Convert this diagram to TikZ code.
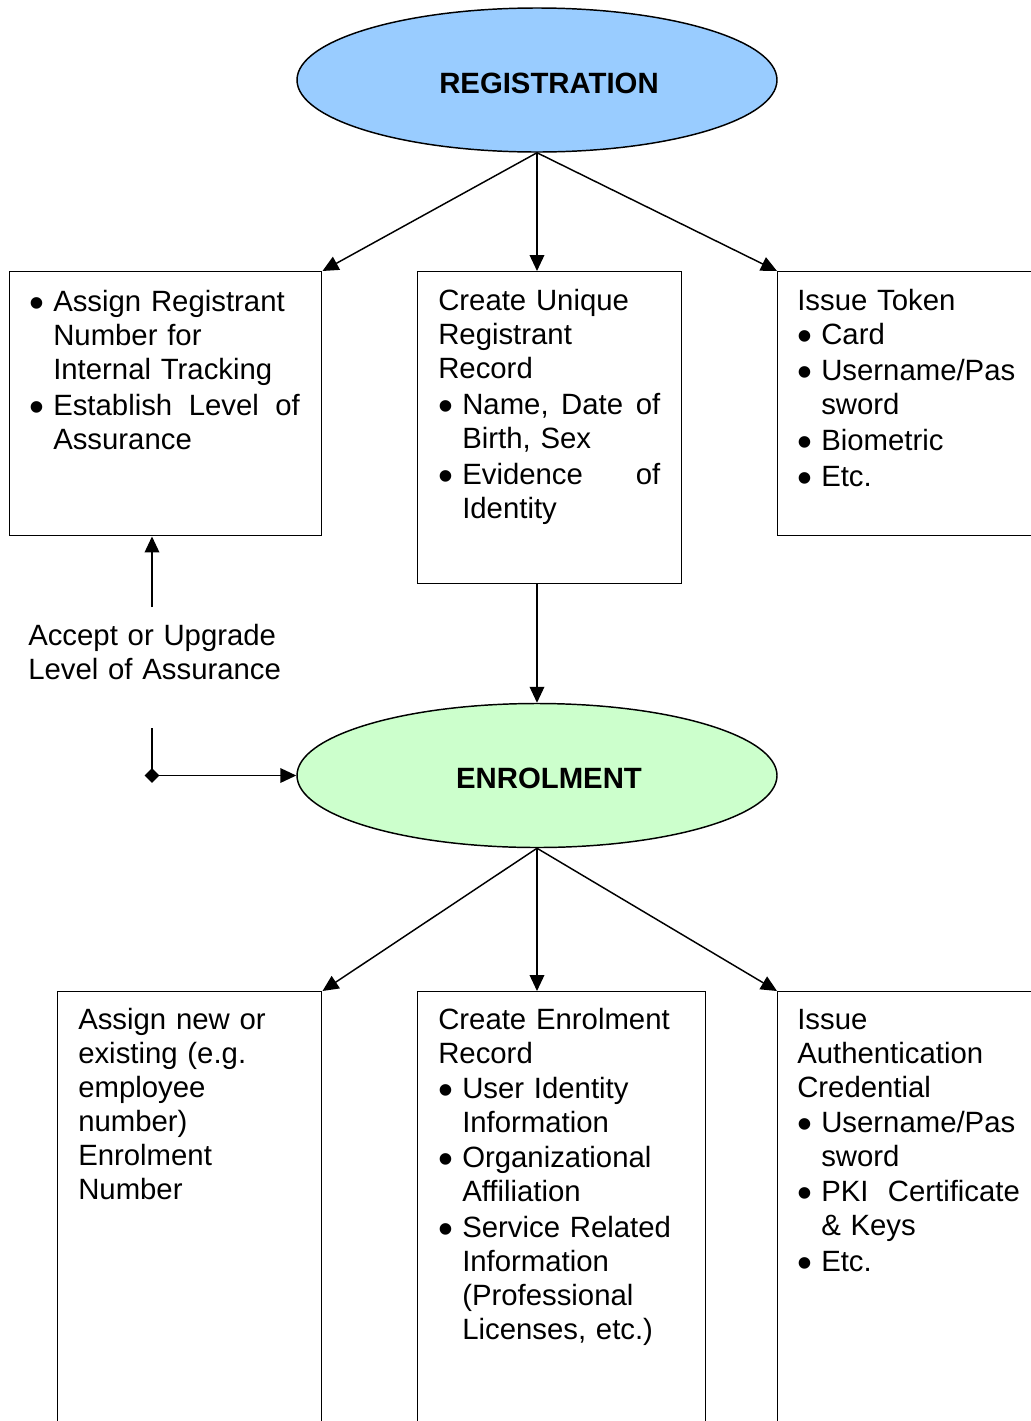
\documentclass[tikz,border=0pt]{standalone}
\usepackage{fontspec}
\setmainfont{Liberation Sans}
\usetikzlibrary{shapes.geometric,arrows.meta}
\definecolor{regblue}{RGB}{153,204,255}
\definecolor{enrgreen}{RGB}{204,255,204}
\newcommand{\bitem}{\makebox[18pt][l]{\smash{\raisebox{-4.5pt}{\scalebox{1.45}{\textbullet}}}}}
\newcommand{\bcont}{\hspace*{18pt}}
\tikzset{
	oval/.style={ellipse, draw, line width=1.1pt, inner sep=0pt, minimum width=360pt, minimum height=108pt},
	ovaltext/.style={font=\bfseries\fontsize{22pt}{25.5pt}\selectfont, inner sep=0pt, xshift=9pt, yshift=-2.25pt},
	stepbox/.style={rectangle, draw, line width=1.1pt, inner sep=0pt, anchor=north west},
	boxtext/.style={anchor=base west, inner sep=0pt, align=left, font=\fontsize{22pt}{25.5pt}\selectfont},
	arr/.style={line width=1.1pt, -{Triangle[length=12pt,width=11pt]}},
}
\begin{document}
\begin{tikzpicture}[x=0.75pt,y=0.75pt,yscale=-1,xscale=1]
			\useasboundingbox (0,0) rectangle (1031,1421);
			\clip (0,0) rectangle (1031,1421); %boxes run off the right and bottom edges
			
			%Ellipses
			\node[oval, fill=regblue, label={[ovaltext]center:REGISTRATION}] (reg) at (537,80) {};
			\node[oval, fill=enrgreen, label={[ovaltext]center:ENROLMENT}] (enr) at (537,775.5) {};
			
			%Shape: Rectangle (top row)
			\node[stepbox, minimum width=234pt, minimum height=198pt] (assign) at (9,271) {};
			\node[stepbox, minimum width=198pt, minimum height=234pt] (record) at (417,271) {};
			\node[stepbox, minimum width=240pt, minimum height=198pt] (token) at (777,271) {};
			%Shape: Rectangle (bottom row)
			\node[stepbox, minimum width=198pt, minimum height=360pt] (enrnum) at (57,991) {};
			\node[stepbox, minimum width=216pt, minimum height=360pt] (enrrec) at (417,991) {};
			\node[stepbox, minimum width=240pt, minimum height=360pt] (cred) at (777,991) {};
			
			%Text boxes
			\node[boxtext, text width=203pt] (assigntxt) at (29,311) {%
				\bitem Assign Registrant\\
				\bcont Number for\\
				\bcont Internal Tracking\\[1.5pt]
				\bitem Establish\hfill Level\hfill of\\
				\bcont Assurance};
			\node[boxtext, text width=166.5pt] (recordtxt) at (438,310) {%
				Create Unique\\
				Registrant\\
				Record\\[1.5pt]
				\bitem Name,\hfill Date\hfill of\\
				\bcont Birth, Sex\\[1.5pt]
				\bitem Evidence\hfill of\\
				\bcont Identity};
			\node[boxtext, text width=172pt] (tokentxt) at (797,310) {%
				Issue Token\\
				\bitem Card\\[1.5pt]
				\bitem Username/Pas\\
				\bcont sword\\[1.5pt]
				\bitem Biometric\\[1.5pt]
				\bitem Etc.};
			\node[boxtext, text width=172pt] (enrnumtxt) at (78,1029) {%
				Assign new or\\
				existing (e.g.\\
				employee\\
				number)\\
				Enrolment\\
				Number};
			\node[boxtext, text width=184.5pt] (enrrectxt) at (438,1029) {%
				Create Enrolment\\
				Record\\[1pt]
				\bitem User Identity\\
				\bcont Information\\[1pt]
				\bitem Organizational\\
				\bcont Affiliation\\[1pt]
				\bitem Service Related\\
				\bcont Information\\
				\bcont (Professional\\
				\bcont Licenses, etc.)};
			\node[boxtext, text width=167pt] (credtxt) at (797,1029) {%
				Issue\\
				Authentication\\
				Credential\\[1pt]
				\bitem Username/Pas\\
				\bcont sword\\[1pt]
				\bitem PKI\hfill Certificate\\
				\bcont \& Keys\\[1pt]
				\bitem Etc.};
			\node[boxtext, text width=200pt] (accept) at (28,645) {Accept or Upgrade\\Level of Assurance};
			
			%Connector ends
			\coordinate (acctop) at (152,607);
			\coordinate (accbot) at (152,728);
			\coordinate (corner) at (152,775.5);
			
			%Straight Lines with arrows
			\draw[arr] (reg.south) -- (assign.north east);
			\draw[arr] (reg.south) -- (reg.south |- record.north);
			\draw[arr] (reg.south) -- (token.north west);
			\draw[arr] (reg.south |- record.south) -- (enr.north);
			\draw[arr] (acctop) -- (acctop |- assign.south);
			\draw[line width=1.1pt] (accbot) -- (corner);
			\draw[line width=1.1pt, shorten <=-5.5pt, {Diamond[length=11pt,width=11pt]}-{Triangle[length=12pt,width=11pt]}] (corner) -- (enr.west);
			\draw[arr] (enr.south) -- (enrnum.north east);
			\draw[arr] (enr.south) -- (enr.south |- enrrec.north);
			\draw[arr] (enr.south) -- (cred.north west);
			
		\end{tikzpicture}
\end{document}
